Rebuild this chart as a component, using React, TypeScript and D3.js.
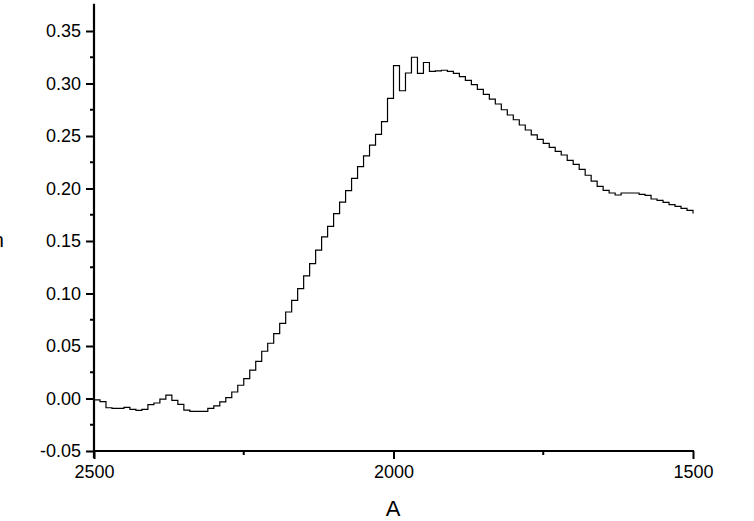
import React, { useEffect, useRef } from 'react';
import * as d3 from 'd3';

// wavenumber grid, 2500 down to 1500 in steps of 10
const wavenumbers: number[] = d3.range(2500, 1499, -10);

// absorbance, one per wavenumber
const absorbance: number[] = [
  -0.0014, -0.003, -0.0088, -0.0094, -0.0094, -0.0084, -0.0103, -0.0113, -0.0103, -0.0059,
  -0.0043, -0.0005, 0.0033, -0.0017, -0.0055, -0.011, -0.0122, -0.0122, -0.0122, -0.0094,
  -0.0071, -0.0033, 0.0008, 0.0062, 0.0126, 0.019, 0.0271, 0.0354, 0.045, 0.0526,
  0.0617, 0.0716, 0.0824, 0.0935, 0.1046, 0.1167, 0.1284, 0.1414, 0.154, 0.164,
  0.176, 0.187, 0.198, 0.2097, 0.2208, 0.231, 0.2414, 0.2516, 0.2636, 0.2859,
  0.317, 0.2931, 0.31, 0.325, 0.3097, 0.32, 0.3116, 0.312, 0.3126, 0.3116,
  0.3097, 0.3065, 0.303, 0.2989, 0.2945, 0.2897, 0.2852, 0.2805, 0.275, 0.27,
  0.2655, 0.2605, 0.2557, 0.251, 0.2468, 0.243, 0.2392, 0.2354, 0.2319, 0.2268,
  0.223, 0.2183, 0.2126, 0.2071, 0.202, 0.1982, 0.1957, 0.1938, 0.1957, 0.1957,
  0.1957, 0.1945, 0.1935, 0.19, 0.1887, 0.1868, 0.1846, 0.183, 0.1811, 0.1792,
  0.1763,
];

const xMajorTicks = [2500, 2000, 1500];
const xMinorTicks = [2250, 1750];
const yMajorTicks = [-0.05, 0, 0.05, 0.1, 0.15, 0.2, 0.25, 0.3, 0.35];
const yMinorTicks = [-0.025, 0.025, 0.075, 0.125, 0.175, 0.225, 0.275, 0.325];

const xTitle = 'A';
const yTitle = 'Absorption';

const W = 754;
const H = 521;
const FONT = 'Liberation Sans, Arial, sans-serif';

// plain hyphen for negatives, like the original
const fmtY = (d: number) => d3.format('.2f')(d).replace('\u2212', '-');

export default function App() {
  const svgRef = useRef<SVGSVGElement>(null);

  useEffect(() => {
    const svg = d3.select(svgRef.current);
    svg.selectAll('*').remove();

    const x = d3.scaleLinear().domain([2500, 1500]).range([94, 693]);
    const y = d3.scaleLinear().domain([-0.05, 0.376]).range([451, 3.7]);

    const data = wavenumbers.map((w, i) => ({ w, a: absorbance[i] }));

    const line = d3
      .line<{ w: number; a: number }>()
      .x((d) => x(d.w))
      .y((d) => y(d.a))
      .curve(d3.curveStepAfter);

    svg
      .append('path')
      .datum(data)
      .attr('fill', 'none')
      .attr('stroke', '#000')
      .attr('stroke-width', 1.2)
      .attr('d', line);

    // y axis
    const yAxis = svg.append('g').attr('transform', 'translate(94,0)');
    yAxis
      .call(
        d3
          .axisLeft(y)
          .tickValues(yMajorTicks)
          .tickSize(8)
          .tickPadding(5)
          .tickFormat((d) => fmtY(d as number))
      )
      .call((g) => g.select('.domain').remove());
    yAxis
      .selectAll('.tick line')
      .attr('stroke', '#000')
      .attr('stroke-width', 2);
    yAxis
      .selectAll('.tick text')
      .attr('font-family', FONT)
      .attr('font-size', 18)
      .attr('fill', '#000');
    yAxis
      .selectAll('line.minor')
      .data(yMinorTicks)
      .enter()
      .append('line')
      .attr('class', 'minor')
      .attr('x1', -4)
      .attr('x2', 0)
      .attr('y1', (d) => y(d))
      .attr('y2', (d) => y(d))
      .attr('stroke', '#000')
      .attr('stroke-width', 2);
    yAxis
      .append('line')
      .attr('x1', 0)
      .attr('x2', 0)
      .attr('y1', y.range()[1])
      .attr('y2', 458)
      .attr('stroke', '#000')
      .attr('stroke-width', 2.2);

    // x axis
    const xAxis = svg.append('g').attr('transform', 'translate(0,451)');
    xAxis
      .call(
        d3
          .axisBottom(x)
          .tickValues(xMajorTicks)
          .tickSize(8)
          .tickPadding(6)
          .tickFormat(d3.format('d'))
      )
      .call((g) => g.select('.domain').remove());
    xAxis
      .selectAll('.tick line')
      .attr('stroke', '#000')
      .attr('stroke-width', 2);
    xAxis
      .selectAll('.tick text')
      .attr('font-family', FONT)
      .attr('font-size', 18)
      .attr('fill', '#000');
    xAxis
      .selectAll('line.minor')
      .data(xMinorTicks)
      .enter()
      .append('line')
      .attr('class', 'minor')
      .attr('x1', (d) => x(d))
      .attr('x2', (d) => x(d))
      .attr('y1', 0)
      .attr('y2', 4)
      .attr('stroke', '#000')
      .attr('stroke-width', 2);
    xAxis
      .append('line')
      .attr('x1', 93)
      .attr('x2', 694)
      .attr('y1', 0)
      .attr('y2', 0)
      .attr('stroke', '#000')
      .attr('stroke-width', 2.2);

    svg
      .append('text')
      .attr('x', 393)
      .attr('y', 516)
      .attr('text-anchor', 'middle')
      .attr('font-family', FONT)
      .attr('font-size', 22)
      .attr('fill', '#000')
      .text(xTitle);

    // the original's y title sits almost entirely off the left edge
    svg
      .append('text')
      .attr('x', 4)
      .attr('y', 247)
      .attr('text-anchor', 'end')
      .attr('font-family', FONT)
      .attr('font-size', 20)
      .attr('fill', '#000')
      .text(yTitle);
  }, []);

  return (
    <svg
      ref={svgRef}
      width={W}
      height={H}
      style={{ position: 'absolute', left: 0, top: 0, background: '#fff' }}
    />
  );
}
